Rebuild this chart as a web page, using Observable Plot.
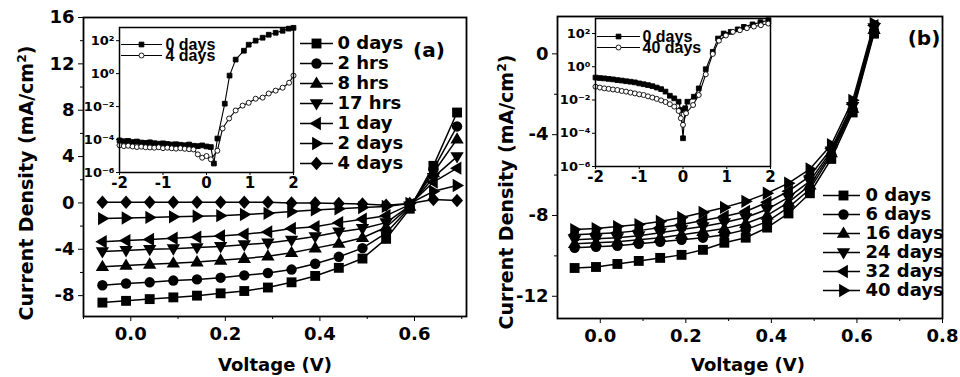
<!DOCTYPE html>
<html><head><meta charset="utf-8">
<script src="https://cdn.jsdelivr.net/npm/d3@7"></script>
<script src="https://cdn.jsdelivr.net/npm/@observablehq/plot@0.6"></script>
<style>
body{margin:0;background:#fff;}
#root{position:relative;width:960px;height:377px;overflow:hidden;font-family:"DejaVu Sans",sans-serif;font-weight:bold;color:#000;}
#root svg{position:absolute;}
.lbl{position:absolute;white-space:nowrap;transform:translate(-50%,-50%);}
.rot{transform:translate(-50%,-50%) rotate(-90deg);}
</style></head><body><div id="root"></div>
<script>
// ---------------- DATA ----------------
// Panel (a): J-V curves vs. time
const labelsA = ["0 days","2 hrs","8 hrs","17 hrs","1 day","2 days","4 days"];
const voltsA = [-0.06,-0.01,0.04,0.09,0.14,0.19,0.24,0.29,0.34,0.39,0.44,0.49,0.54,0.59,0.64,0.69];
const jA_0d  = [-8.6,-8.45,-8.3,-8.15,-8.0,-7.8,-7.6,-7.3,-6.85,-6.3,-5.6,-4.8,-3.1,-0.5,3.2,7.8];
const jA_2h  = [-7.1,-6.95,-6.85,-6.7,-6.6,-6.45,-6.25,-6.05,-5.75,-5.25,-4.65,-3.9,-2.6,-0.4,2.9,6.6];
const jA_8h  = [-5.5,-5.4,-5.3,-5.2,-5.1,-4.95,-4.8,-4.6,-4.3,-3.9,-3.5,-3.0,-2.1,-0.3,2.6,5.5];
const jA_17h = [-4.2,-4.1,-4.0,-3.95,-3.85,-3.75,-3.6,-3.45,-3.2,-2.9,-2.5,-2.2,-1.7,-0.25,2.2,4.0];
const jA_1d  = [-3.35,-3.25,-3.15,-3.05,-2.95,-2.85,-2.7,-2.5,-2.2,-2.05,-1.7,-1.4,-1.1,-0.15,1.8,3.0];
const jA_2d  = [-1.35,-1.3,-1.25,-1.2,-1.15,-1.1,-1.0,-0.9,-0.75,-0.6,-0.5,-0.4,-0.3,-0.05,1.0,1.5];
const jA_4d  = [0.05,0.05,0.05,0.05,0.05,0.05,0.05,0.05,0.0,0.0,-0.05,-0.1,-0.2,-0.05,0.3,0.2];
const yTicksA = [-8,-4,0,4,8,12,16];
const xTicksA = [0.0,0.2,0.4,0.6];

// Panel (b)
const labelsB = ["0 days","6 days","16 days","24 days","32 days","40 days"];
const voltsB = [-0.06,-0.01,0.04,0.09,0.14,0.19,0.24,0.29,0.34,0.39,0.44,0.49,0.54,0.59,0.64];
const jB_0d  = [-10.6,-10.55,-10.4,-10.25,-10.1,-9.95,-9.7,-9.35,-9.1,-8.6,-7.9,-6.9,-5.2,-2.9,1.0];
const jB_6d  = [-9.6,-9.55,-9.5,-9.4,-9.3,-9.2,-9.1,-8.95,-8.7,-8.3,-7.6,-6.7,-5.0,-2.8,1.1];
const jB_16d = [-9.4,-9.35,-9.3,-9.2,-9.1,-8.95,-8.8,-8.65,-8.4,-8.0,-7.35,-6.5,-4.9,-2.7,1.2];
const jB_24d = [-9.2,-9.15,-9.1,-9.0,-8.85,-8.7,-8.55,-8.35,-8.1,-7.7,-7.1,-6.3,-4.8,-2.6,1.3];
const jB_32d = [-8.95,-8.9,-8.85,-8.75,-8.6,-8.45,-8.25,-8.05,-7.8,-7.35,-6.8,-6.05,-4.7,-2.5,1.4];
const jB_40d = [-8.7,-8.65,-8.55,-8.45,-8.3,-8.1,-7.85,-7.6,-7.3,-6.9,-6.4,-5.7,-4.5,-2.3,1.5];
const yTicksB = [-12,-8,-4,0];
const xTicksB = [0.0,0.2,0.4,0.6,0.8];

// Inset (a): log |J| vs V
const insetLabelsA = ["0 days","4 days"];
const insVA_0d = [-2.0,-1.9,-1.8,-1.7,-1.6,-1.5,-1.4,-1.3,-1.2,-1.1,-1.0,-0.9,-0.8,-0.7,-0.6,-0.5,-0.4,-0.3,-0.2,-0.1,0.0,0.1,0.17,0.25,0.42,0.53,0.67,0.86,0.97,1.13,1.29,1.43,1.59,1.75,1.89,2.0];
const insJA_0d = [8.9e-5,7.9e-5,8.3e-5,7.1e-5,7.6e-5,6.6e-5,6.3e-5,6.8e-5,6.0e-5,5.6e-5,5.9e-5,5.4e-5,5.0e-5,5.2e-5,4.8e-5,4.5e-5,5.0e-5,4.2e-5,4.0e-5,4.4e-5,3.8e-5,3.5e-5,3.5e-6,1.15e-4,1.5e-2,0.76,7.1,24.5,57,100,151,229,302,398,537,603];
const insVA_4d = [-2.0,-1.9,-1.8,-1.7,-1.6,-1.5,-1.4,-1.3,-1.2,-1.1,-1.0,-0.9,-0.8,-0.7,-0.6,-0.5,-0.4,-0.3,-0.2,-0.1,0.0,0.1,0.25,0.37,0.52,0.67,0.83,0.97,1.13,1.29,1.43,1.59,1.75,1.9,2.0];
const insJA_4d = [4.5e-5,4.0e-5,4.2e-5,3.8e-5,3.5e-5,3.7e-5,3.4e-5,3.3e-5,3.2e-5,3.4e-5,3.0e-5,3.2e-5,2.95e-5,2.8e-5,3.0e-5,2.75e-5,2.6e-5,2.5e-5,1.26e-5,7.9e-6,1.0e-5,6.3e-6,2.1e-5,4.7e-4,1.9e-3,5.8e-3,1.15e-2,1.7e-2,3.0e-2,3.5e-2,6.2e-2,9.3e-2,0.14,0.28,0.76];

// Inset (b)
const insetLabelsB = ["0 days","40 days"];
const insVB_0d = [-2.0,-1.9,-1.8,-1.7,-1.6,-1.5,-1.4,-1.3,-1.2,-1.1,-1.0,-0.9,-0.8,-0.7,-0.6,-0.5,-0.4,-0.3,-0.2,-0.1,-0.05,0.0,0.05,0.1,0.25,0.36,0.52,0.68,0.8,0.93,1.09,1.25,1.39,1.59,1.77,1.95];
const insJB_0d = [0.224,0.209,0.2,0.186,0.174,0.158,0.148,0.135,0.126,0.115,0.1,0.089,0.079,0.068,0.056,0.045,0.032,0.018,0.0126,0.0079,0.0025,5e-5,0.0032,0.0079,0.0158,0.05,0.71,7.9,50,100,126,178,251,355,479,631];
const insVB_40d = [-2.0,-1.9,-1.8,-1.7,-1.6,-1.5,-1.4,-1.3,-1.2,-1.1,-1.0,-0.9,-0.8,-0.7,-0.6,-0.5,-0.4,-0.3,-0.2,-0.1,-0.05,0.0,0.07,0.23,0.36,0.52,0.68,0.82,0.98,1.14,1.3,1.46,1.62,1.78,1.95];
const insJB_40d = [0.063,0.056,0.05,0.047,0.043,0.04,0.035,0.032,0.028,0.025,0.022,0.02,0.0166,0.0141,0.0117,0.0095,0.0076,0.0056,0.004,0.0022,0.0008,0.00032,0.0016,0.005,0.02,0.35,5.9,37,76,126,158,209,263,316,398];
const insetXTicks = [-2,-1,0,1,2];
const insetYTicks = [1e-6,1e-4,1e-2,1,1e2];

// ---------------- SYMBOLS ----------------
const symSquare = {draw(c,size){const r=Math.sqrt(size/Math.PI)*0.95;c.moveTo(-r,-r);c.lineTo(r,-r);c.lineTo(r,r);c.lineTo(-r,r);c.closePath();}};
const symCircle = {draw(c,size){const r=Math.sqrt(size/Math.PI);c.moveTo(r,0);c.arc(0,0,r,0,2*Math.PI);c.closePath();}};
function tri(angle){return {draw(c,size){const r=Math.sqrt(size/Math.PI)*1.35;const pts=[[0,-r],[r*0.95,r*0.62],[-r*0.95,r*0.62]];const a=angle*Math.PI/180,co=Math.cos(a),si=Math.sin(a);pts.forEach(([x,y],i)=>{const X=x*co-y*si,Y=x*si+y*co;i?c.lineTo(X,Y):c.moveTo(X,Y);});c.closePath();}};}
const symDiamond = {draw(c,size){const r=Math.sqrt(size/Math.PI);c.moveTo(0,-r*1.3);c.lineTo(r*1.15,0);c.lineTo(0,r*1.3);c.lineTo(-r*1.15,0);c.closePath();}};
const symbolsA = [symSquare,symCircle,tri(0),tri(180),tri(-90),tri(90),symDiamond];
const symbolsB = [symSquare,symCircle,tri(0),tri(180),tri(-90),tri(90)];
const insetSymbols = [symSquare,symCircle];

const root = document.getElementById("root");
const baseStyle = {background:"transparent",fontFamily:"DejaVu Sans",fontWeight:"bold",color:"#000",overflow:"visible"};
function place(el,left,top){el.style.position="absolute";el.style.left=left+"px";el.style.top=top+"px";el.style.maxWidth="none";root.appendChild(el);}
function text(html,x,y,size,rot){const d=document.createElement("div");d.className="lbl"+(rot?" rot":"");d.innerHTML=html;d.style.left=x+"px";d.style.top=y+"px";d.style.fontSize=size+"px";root.appendChild(d);}

function mainPlot(o){
  const rows=o.labels.flatMap((s,i)=>o.volts.map((v,k)=>({s,v,j:o.series[i][k]})));
  const p=Plot.plot({
    width:480,height:377,marginLeft:o.mL,marginRight:o.mR,marginTop:o.mT,marginBottom:o.mB,
    x:{domain:o.xDomain},y:{domain:o.yDomain},
    symbol:{domain:o.labels,range:o.symbols},
    style:baseStyle,
    marks:[
      Plot.axisX({ticks:o.xTicks,tickFormat:d3.format(".1f"),tickSize:5,tickPadding:6,fontSize:18,label:null}),
      Plot.axisX({ticks:o.xMinor,tickFormat:()=>"",tickSize:3,label:null}),
      Plot.axisY({ticks:o.yTicks,tickFormat:d=>String(d),tickSize:5,tickPadding:4,fontSize:18,label:null}),
      Plot.axisY({ticks:o.yMinor,tickFormat:()=>"",tickSize:3,label:null}),
      Plot.line(rows,{x:"v",y:"j",z:"s",stroke:"#000",strokeWidth:1.5}),
      Plot.dot(rows,{x:"v",y:"j",symbol:"s",fill:"#000",stroke:"none",r:5.2}),
      Plot.frame({stroke:"#000",strokeWidth:1.8})
    ]
  });
  place(p,o.left,0);
}
const supMap={"-":"⁻","0":"⁰","1":"¹","2":"²","3":"³","4":"⁴","5":"⁵","6":"⁶"};
const logFmt=d=>"10"+String(Math.round(Math.log10(d))).split("").map(ch=>supMap[ch]).join("");
function insetPlot(o){
  const rows=o.labels.flatMap((s,i)=>o.vs[i].map((v,k)=>({s,v,j:o.js[i][k]})));
  const p=Plot.plot({
    width:o.w,height:o.h,marginLeft:o.mL,marginRight:o.mR,marginTop:o.mT,marginBottom:o.mB,
    x:{domain:[-2,2]},y:{type:"log",domain:o.yDomain},
    color:{domain:o.labels,range:["#000","#fff"]},
    symbol:{domain:o.labels,range:insetSymbols},
    style:baseStyle,
    marks:[
      Plot.frame({fill:"#fff",stroke:"none"}),
      Plot.axisX({ticks:insetXTicks,tickFormat:d=>String(d),tickSize:3,tickPadding:2,fontSize:15,label:null}),
      Plot.axisY({ticks:insetYTicks,tickFormat:logFmt,tickSize:3,tickPadding:2,fontSize:13,label:null}),
      Plot.line(rows,{x:"v",y:"j",z:"s",stroke:"#000",strokeWidth:1.1}),
      Plot.dot(rows,{x:"v",y:"j",fill:"s",symbol:"s",stroke:"#000",strokeWidth:0.9,r:2.5}),
      Plot.frame({stroke:"#000",strokeWidth:1.5})
    ]
  });
  place(p,o.left,o.top);
}
function legend(o){
  const d=o.labels.map(s=>({s}));
  const p=Plot.plot({
    width:o.w,height:o.h,margin:0,
    x:{domain:[0,o.w],range:[0,o.w],axis:null},
    y:{type:"point",domain:o.labels,range:o.yRange,axis:null},
    symbol:{domain:o.labels,range:o.symbols},
    color:{domain:o.labels,range:o.fills},
    style:baseStyle,
    marks:[
      Plot.ruleY(d,{y:"s",x1:o.lx1,x2:o.lx2,stroke:"#000",strokeWidth:o.sw}),
      Plot.dot(d,{x:o.mx,y:"s",symbol:"s",fill:"s",stroke:"#000",strokeWidth:o.dsw,r:o.r}),
      Plot.text(d,{x:o.tx,y:"s",text:"s",textAnchor:"start",fontSize:o.fs,fontWeight:o.fw,fontFamily:o.ff})
    ]
  });
  place(p,o.left,o.top);
}

// main panels
mainPlot({labels:labelsA,volts:voltsA,series:[jA_0d,jA_2h,jA_8h,jA_17h,jA_1d,jA_2d,jA_4d],symbols:symbolsA,
  xDomain:[-0.1,0.71],yDomain:[-9.8,16],xTicks:xTicksA,xMinor:[-0.1,0.1,0.3,0.5,0.7],yTicks:yTicksA,yMinor:[-6,-2,2,6,10,14],
  left:0,mL:83,mR:14,mT:17,mB:61});
mainPlot({labels:labelsB,volts:voltsB,series:[jB_0d,jB_6d,jB_16d,jB_24d,jB_32d,jB_40d],symbols:symbolsB,
  xDomain:[-0.1,0.8],yDomain:[-13.1,1.85],xTicks:xTicksB,xMinor:[0.1,0.3,0.5,0.7],yTicks:yTicksB,yMinor:[-10,-6,-2],
  left:480,mL:77,mR:18,mT:16,mB:59});

// insets
insetPlot({labels:insetLabelsA,vs:[insVA_0d,insVA_4d],js:[insJA_0d,insJA_4d],yDomain:[1e-6,6.3e2],
  left:80,top:15,w:220,h:180,mL:39,mR:7,mT:12,mB:23});
insetPlot({labels:insetLabelsB,vs:[insVB_0d,insVB_40d],js:[insJB_0d,insJB_40d],yDomain:[1e-6,8e2],
  left:555,top:8,w:222,h:178,mL:40,mR:7,mT:10,mB:20});

// legends
const blacks = labelsA.map(()=>"#000");
legend({labels:labelsA,symbols:symbolsA,fills:blacks,left:290,top:15,w:170,h:175,yRange:[18,158],lx1:10,lx2:43,mx:26,tx:47,fs:18,fw:"bold",ff:"DejaVu Sans",r:5.2,sw:1.5,dsw:0});
legend({labels:labelsB,symbols:symbolsB,fills:blacks.slice(0,6),left:815,top:170,w:140,h:140,yRange:[15,129],lx1:8,lx2:45,mx:28,tx:50,fs:18,fw:"bold",ff:"DejaVu Sans",r:5.2,sw:1.5,dsw:0});
legend({labels:insetLabelsA,symbols:insetSymbols,fills:["#000","#fff"],left:118,top:28,w:110,h:45,yRange:[10,32],lx1:3,lx2:44,mx:23,tx:47,fs:16,fw:"bold",ff:"Liberation Sans",r:2.5,sw:1.1,dsw:0.9});
legend({labels:insetLabelsB,symbols:insetSymbols,fills:["#000","#fff"],left:595,top:20,w:120,h:45,yRange:[10,32],lx1:2,lx2:45,mx:23,tx:47,fs:16,fw:"bold",ff:"Liberation Sans",r:2.5,sw:1.1,dsw:0.9});

// axis titles and panel tags
text("Current Density (mA/cm<sup style='font-size:0.65em'>2</sup>)",26,183,19,true);
text("Current Density (mA/cm<sup style='font-size:0.65em'>2</sup>)",506,192,19,true);
text("Voltage (V)",275,364,18,false);
text("Voltage (V)",748,364,18,false);
text("(a)",429,50,20,false);
text("(b)",924,38,20,false);
</script></body></html>
